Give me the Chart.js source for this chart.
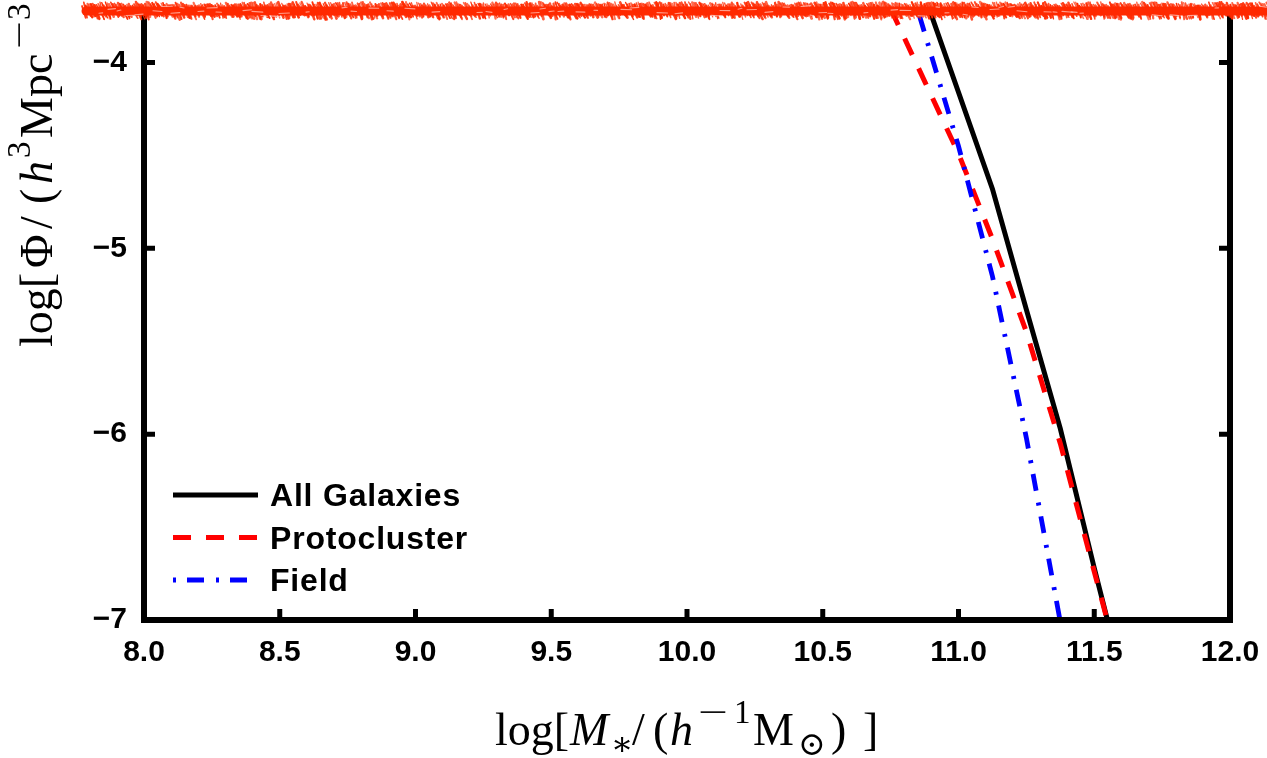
<!DOCTYPE html>
<html lang="en">
<head>
<meta charset="UTF-8">
<title>Stellar mass function</title>
<script src="https://cdn.jsdelivr.net/npm/chart.js"></script>
<style>
  html, body { margin: 0; padding: 0; background: #fff; }
  #smf { display: block; }
</style>
</head>
<body>
<canvas id="smf" width="1267" height="758"></canvas>
<script>
// bin centres, log[M*/(h^-1 Msun)]
const massBins = [10.75, 10.875, 11.0, 11.125, 11.25, 11.375, 11.5, 11.625];
// log[Phi/(h^3 Mpc^-3)] for each sample
const allGalaxies  = [-3.12, -3.64, -4.16, -4.68, -5.33, -5.97, -6.72, -7.44];
const protocluster = [-3.71, -4.10, -4.49, -4.95, -5.45, -6.05, -6.74, -7.42];
const field        = [-3.23, -3.84, -4.45, -5.15, -6.02, -7.01];

const seriesNames = ['All Galaxies', 'Protocluster', 'Field'];
const xTickValues = [8.0, 8.5, 9.0, 9.5, 10.0, 10.5, 11.0, 11.5, 12.0];
const yTickValues = [-7, -6, -5, -4];

const sans = "'Liberation Sans', Arial, Helvetica, sans-serif";
const serif = "'Liberation Serif', 'DejaVu Serif', serif";

const toPoints = ys => ys.map((y, i) => ({ x: massBins[i], y: y }));

// box with inward ticks on left, bottom and right
const framePlugin = {
    id: 'frame',
    afterDatasetsDraw(chart) {
        const { ctx, chartArea: a, scales: { x, y } } = chart;
        ctx.save();
        ctx.strokeStyle = '#000';
        ctx.lineWidth = 6;
        ctx.lineCap = 'square';
        ctx.beginPath();
        ctx.moveTo(a.left, a.top);
        ctx.lineTo(a.left, a.bottom);
        ctx.lineTo(a.right, a.bottom);
        ctx.lineTo(a.right, a.top);
        ctx.closePath();
        ctx.stroke();

        const len = 11;
        ctx.lineWidth = 5;
        ctx.lineCap = 'butt';
        ctx.beginPath();
        x.ticks.forEach(t => {
            const px = x.getPixelForValue(t.value);
            ctx.moveTo(px, a.bottom);
            ctx.lineTo(px, a.bottom - len);
        });
        y.ticks.forEach(t => {
            const py = y.getPixelForValue(t.value);
            ctx.moveTo(a.left, py);
            ctx.lineTo(a.left + len, py);
            ctx.moveTo(a.right, py);
            ctx.lineTo(a.right - len, py);
        });
        ctx.stroke();
        ctx.restore();
    }
};

// line-sample legend in the lower left of the plot
const legendPlugin = {
    id: 'lineLegend',
    afterDatasetsDraw(chart) {
        const { ctx, chartArea: a } = chart;
        ctx.save();
        ctx.font = 'bold 32px ' + sans;
        ctx.letterSpacing = '0.8px';
        chart.data.datasets.forEach((ds, i) => {
            const yRow = a.bottom - 125 + i * 42.5;
            ctx.strokeStyle = ds.borderColor;
            ctx.lineWidth = ds.borderWidth;
            ctx.setLineDash(ds.borderDash || []);
            ctx.beginPath();
            ctx.moveTo(a.left + 29, yRow);
            ctx.lineTo(a.left + 114, yRow);
            ctx.stroke();
            ctx.setLineDash([]);
            ctx.fillStyle = '#000';
            ctx.textBaseline = 'alphabetic';
            ctx.fillText(ds.label, a.left + 126, yRow + 11);
        });
        ctx.restore();
    }
};

// axis titles: each piece placed at an offset along the baseline
function drawRich(ctx, parts, size) {
    parts.forEach(p => {
        const s = (p.sup || p.sub) ? size * 0.72 : size;
        ctx.font = (p.it ? 'italic ' : '') + s + 'px ' + serif;
        const dy = p.sup ? -size * 0.48 : p.sub ? size * 0.22 : 0;
        ctx.save();
        ctx.translate(p.at, dy);
        ctx.scale(p.sx || 1, 1);
        ctx.fillText(p.t, 0, 0);
        ctx.restore();
    });
}

const xTitle = [
    { t: 'log[', at: 0 }, { t: 'M', it: true, at: 75 }, { t: '\u2217', sub: true, at: 116 },
    { t: '/', at: 137 }, { t: '(', at: 158 }, { t: 'h', it: true, at: 175 },
    { t: '\u2212', sup: true, at: 203, sx: 1.6 }, { t: '1', sup: true, at: 239 },
    { t: 'M', at: 258 }, { t: '\u2299', sub: true, at: 303 },
    { t: ')', at: 336 }, { t: ']', at: 368 }
];
const yTitle = [
    { t: 'log[', at: 0 }, { t: '\u03A6', at: 79 }, { t: '/', at: 118 }, { t: '(', at: 143 },
    { t: 'h', it: true, at: 163 }, { t: '3', sup: true, at: 189 }, { t: 'Mpc', at: 209 },
    { t: '\u2212', sup: true, at: 298, sx: 1.5 }, { t: '3', sup: true, at: 327 },
    { t: ')', at: 350 }, { t: ']', at: 382 }
];

const titlePlugin = {
    id: 'axisTitles',
    afterDraw(chart) {
        const { ctx, chartArea: a } = chart;
        const size = 46;
        ctx.save();
        ctx.fillStyle = '#000';
        ctx.textBaseline = 'alphabetic';
        ctx.textAlign = 'left';

        ctx.save();
        ctx.translate((a.left + a.right) / 2 - 192, 745);
        drawRich(ctx, xTitle, size);
        ctx.restore();

        ctx.translate(52, 347);
        ctx.rotate(-Math.PI / 2);
        drawRich(ctx, yTitle, size);
        ctx.restore();
    }
};

// rough red marker stroke across the top edge
function grain(i) {
    const s = Math.sin(i * 12.9898) * 43758.5453;
    return s - Math.floor(s);
}
const bandPlugin = {
    id: 'topBand',
    afterDraw(chart) {
        const ctx = chart.ctx;
        const y0 = chart.chartArea.top - 1;
        const x0 = 82, x1 = chart.width;
        ctx.save();
        ctx.strokeStyle = '#ff2a00';
        ctx.lineCap = 'round';
        ctx.lineWidth = 9;
        ctx.beginPath();
        ctx.moveTo(x0 + 4, y0);
        ctx.lineTo(x1, y0);
        ctx.stroke();
        let i = 0;
        for (let x = x0; x < x1; x += 1.8, i++) {
            const up = 5 + grain(i) * 4;
            const dn = 4 + grain(i + 500) * 4.5;
            const lean = 2 + grain(i + 900) * 6;
            ctx.lineWidth = 1.2 + grain(i + 1300) * 1.6;
            ctx.globalAlpha = 0.65 + grain(i + 1700) * 0.35;
            ctx.beginPath();
            ctx.moveTo(x, y0 - up);
            ctx.lineTo(x + lean, y0 + dn);
            ctx.stroke();
        }
        ctx.globalAlpha = 1;
        ctx.strokeStyle = 'rgba(255, 205, 195, 0.7)';
        ctx.lineWidth = 1.1;
        i = 0;
        for (let x = x0 + 8; x < x1; x += 9, i++) {
            if (grain(i + 2500) < 0.45) continue;
            const yy = y0 - 5 + grain(i + 3000) * 10;
            ctx.beginPath();
            ctx.moveTo(x, yy);
            ctx.lineTo(x + 3 + grain(i + 3500) * 8, yy + 1 - grain(i + 4000) * 2);
            ctx.stroke();
        }
        ctx.restore();
    }
};

const chart = new Chart(document.getElementById('smf'), {
    type: 'line',
    data: {
        datasets: [
            {
                label: seriesNames[0],
                data: toPoints(allGalaxies),
                borderColor: '#000000',
                borderWidth: 5,
                borderDash: [],
                order: 3
            },
            {
                label: seriesNames[1],
                data: toPoints(protocluster),
                borderColor: '#ff0000',
                borderWidth: 5,
                borderDash: [18, 15],
                order: 2
            },
            {
                label: seriesNames[2],
                data: toPoints(field),
                borderColor: '#0000ff',
                borderWidth: 4.8,
                borderDash: [3, 11, 17, 12],
                order: 1
            }
        ]
    },
    options: {
        responsive: false,
        animation: false,
        devicePixelRatio: 1,
        layout: { padding: { top: 12, right: 37, left: 0, bottom: 0 } },
        elements: {
            point: { radius: 0 },
            line: { tension: 0, fill: false, borderCapStyle: 'butt' }
        },
        plugins: {
            legend: { display: false },
            tooltip: { enabled: false }
        },
        scales: {
            x: {
                type: 'linear',
                min: 8,
                max: 12,
                afterBuildTicks: s => { s.ticks = xTickValues.map(v => ({ value: v })); },
                afterFit: s => { s.height = 138; s.paddingLeft = 0; s.paddingRight = 0; },
                grid: { display: false },
                border: { display: false },
                ticks: {
                    color: '#000',
                    padding: 7,
                    maxRotation: 0,
                    autoSkip: false,
                    font: { family: sans, size: 30, weight: 'bold' },
                    callback: v => v.toFixed(1)
                }
            },
            y: {
                type: 'linear',
                min: -7,
                max: -3.728,
                afterBuildTicks: s => { s.ticks = yTickValues.map(v => ({ value: v })); },
                afterFit: s => { s.width = 144; s.paddingTop = 0; s.paddingBottom = 0; },
                grid: { display: false },
                border: { display: false },
                ticks: {
                    color: '#000',
                    padding: 9,
                    font: { family: sans, size: 30, weight: 'bold' },
                    callback: v => '\u2212' + Math.abs(v)
                }
            }
        }
    },
    plugins: [framePlugin, legendPlugin, titlePlugin, bandPlugin]
});
</script>
</body>
</html>
